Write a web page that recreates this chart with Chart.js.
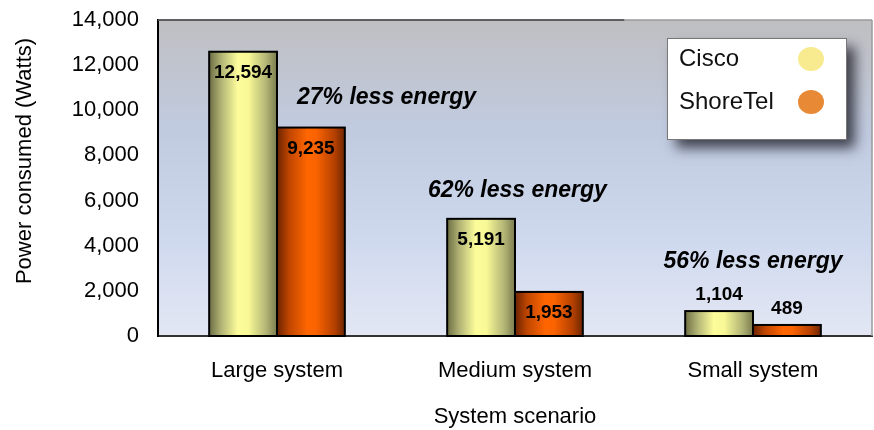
<!DOCTYPE html>
<html><head><meta charset="utf-8">
<script src="https://cdn.jsdelivr.net/npm/chart.js@4/dist/chart.umd.min.js"></script>
<style>html,body{margin:0;padding:0;background:#fff}#wrap{width:874px;height:430px}</style>
</head><body><div id="wrap"><canvas id="c" width="874" height="430"></canvas></div>
<script>
const categories = ['Large system', 'Medium system', 'Small system'];
const seriesNames = ['Cisco', 'ShoreTel'];
const ciscoValues = [12594, 5191, 1104];
const shoretelValues = [9235, 1953, 489];
const yTicks = [0, 2000, 4000, 6000, 8000, 10000, 12000, 14000];
const savingsLabels = ['27% less energy', '62% less energy', '56% less energy'];
const savingsCategoryPos = [0.46, 1.01, 2.0];
const savingsValuePos = [10550, 6420, 3280];
const legendColors = ['#f7ea8f', '#e88a35'];

const FONT = "'Liberation Sans', Arial, sans-serif";

const barStops = [
  [[0, '#6c6e44'], [0.18, '#b2b475'], [0.42, '#fcfc9b'], [0.58, '#f8f896'], [0.85, '#b0b274'], [1, '#797b4d']],
  [[0, '#6a2300'], [0.18, '#c04600'], [0.45, '#ff6600'], [0.58, '#fa6300'], [0.85, '#b44000'], [1, '#6e2600']]
];

const customPlugin = {
  id: 'custom',
  beforeDraw(chart) {
    const { ctx, chartArea: a } = chart;
    ctx.save();
    const g = ctx.createLinearGradient(0, a.top, 0, a.bottom);
    g.addColorStop(0, '#bfbfc1');
    g.addColorStop(0.35, '#c1cbe0');
    g.addColorStop(0.7, '#cfd9ee');
    g.addColorStop(1, '#e3e7f4');
    ctx.fillStyle = g;
    ctx.fillRect(a.left, a.top, a.right - a.left, a.bottom - a.top);
    ctx.restore();
  },
  afterDatasetsDraw(chart) {
    const { ctx } = chart;
    ctx.save();
    chart.data.datasets.forEach((ds, di) => {
      const meta = chart.getDatasetMeta(di);
      meta.data.forEach((el) => {
        const x0 = el.x - el.width / 2;
        const g = ctx.createLinearGradient(x0, 0, x0 + el.width, 0);
        barStops[di].forEach(s => g.addColorStop(s[0], s[1]));
        ctx.fillStyle = g;
        ctx.fillRect(x0, el.y, el.width, el.base - el.y);
        ctx.lineWidth = 2;
        ctx.strokeStyle = '#000';
        ctx.strokeRect(x0, el.y, el.width, el.base - el.y);
      });
    });
    ctx.restore();
  },
  afterDraw(chart) {
    const { ctx, chartArea: a, scales } = chart;
    ctx.save();
    // plot borders (top/right)
    ctx.lineWidth = 1.5;
    ctx.strokeStyle = '#9a9a9c';
    ctx.beginPath(); ctx.moveTo(a.right, a.top); ctx.lineTo(a.right, a.bottom); ctx.stroke();
    ctx.beginPath(); ctx.moveTo(a.left, a.top); ctx.lineTo(a.right, a.top); ctx.stroke();
    ctx.strokeStyle = '#444';
    ctx.beginPath(); ctx.moveTo(a.left, a.top); ctx.lineTo(a.left + (a.right - a.left) * 0.653, a.top); ctx.stroke();

    // data labels
    ctx.fillStyle = '#000';
    ctx.font = 'bold 19px ' + FONT;
    ctx.textAlign = 'center';
    ctx.textBaseline = 'middle';
    chart.data.datasets.forEach((ds, di) => {
      const meta = chart.getDatasetMeta(di);
      meta.data.forEach((el, i) => {
        const txt = ds.data[i].toLocaleString('en-US');
        const h = el.base - el.y;
        const y = h > 40 ? el.y + 21 : el.y - 16;
        ctx.fillText(txt, el.x, y);
      });
    });

    // savings annotations
    ctx.font = 'italic bold 23px ' + FONT;
    const x0 = scales.x.getPixelForValue(0), x1 = scales.x.getPixelForValue(1);
    savingsLabels.forEach((t, i) => {
      const px = x0 + (x1 - x0) * savingsCategoryPos[i];
      const py = scales.y.getPixelForValue(savingsValuePos[i]);
      ctx.fillText(t, px, py);
    });

    // y title
    ctx.save();
    ctx.translate(25, (a.top + a.bottom) / 2 - 17);
    ctx.rotate(-Math.PI / 2);
    ctx.font = '22px ' + FONT;
    ctx.fillText('Power consumed (Watts)', 0, 0);
    ctx.restore();

    // legend
    const lx = 667, ly = 38, lw = 179, lh = 101;
    ctx.save();
    ctx.shadowColor = 'rgba(20,20,30,0.75)';
    ctx.shadowBlur = 12;
    ctx.shadowOffsetX = 9;
    ctx.shadowOffsetY = 9;
    ctx.fillStyle = '#fff';
    ctx.fillRect(lx, ly, lw, lh);
    ctx.restore();
    ctx.lineWidth = 1;
    ctx.strokeStyle = '#777';
    ctx.strokeRect(lx + 0.5, ly + 0.5, lw, lh);
    ctx.font = '24px ' + FONT;
    ctx.textAlign = 'left';
    seriesNames.forEach((n, i) => {
      const cy = ly + 21 + i * 43;
      ctx.fillStyle = '#111';
      ctx.fillText(n, lx + 12, cy);
      ctx.fillStyle = legendColors[i];
      ctx.beginPath();
      ctx.ellipse(lx + 144, cy, 13, 12, 0, 0, Math.PI * 2);
      ctx.fill();
    });
    ctx.restore();
  }
};

new Chart(document.getElementById('c'), {
  type: 'bar',
  data: {
    labels: categories,
    datasets: [
      { label: seriesNames[0], data: ciscoValues, backgroundColor: 'rgba(0,0,0,0)', borderWidth: 0 },
      { label: seriesNames[1], data: shoretelValues, backgroundColor: 'rgba(0,0,0,0)', borderWidth: 0 }
    ]
  },
  options: {
    responsive: false,
    animation: false,
    devicePixelRatio: 1,
    layout: { padding: { top: 20, right: 2, left: 0, bottom: 0 } },
    plugins: { legend: { display: false }, tooltip: { enabled: false } },
    datasets: { bar: { categoryPercentage: 0.57, barPercentage: 1 } },
    scales: {
      x: {
        grid: { display: false, drawTicks: false },
        border: { display: true, color: '#333', width: 2 },
        ticks: { font: { family: FONT, size: 22 }, color: '#000', padding: 22 },
        title: { display: true, text: 'System scenario', font: { family: FONT, size: 22 }, color: '#000', padding: { top: 0, bottom: 0 } },
        afterFit(s) { s.height = 94; s.paddingLeft = 0; s.paddingRight = 0; }
      },
      y: {
        min: 0, max: 14000,
        afterBuildTicks(s) { s.ticks = yTicks.map(v => ({ value: v })); },
        grid: { display: false, drawTicks: false },
        border: { display: true, color: '#000', width: 2 },
        ticks: { padding: 19, font: { family: FONT, size: 22 }, color: '#000', callback: v => v.toLocaleString('en-US') },
        afterFit(s) { s.width = 158; s.paddingTop = 0; s.paddingBottom = 0; }
      }
    }
  },
  plugins: [customPlugin]
});
</script></body></html>
